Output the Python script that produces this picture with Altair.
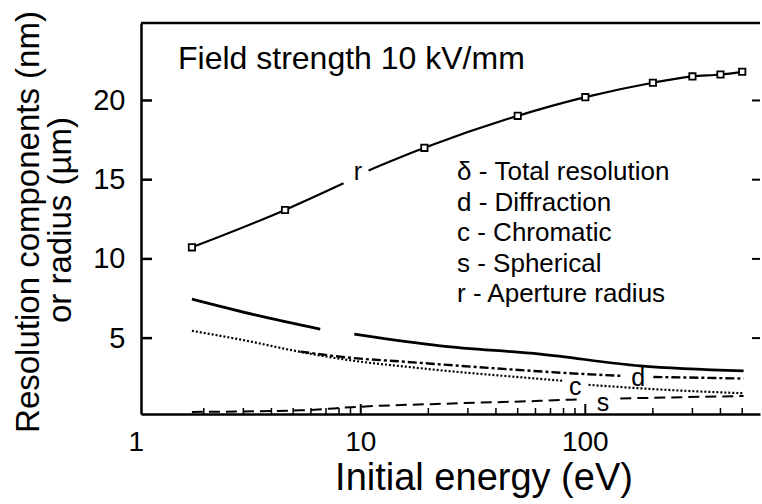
import altair as alt
import pandas as pd

FONT = "Liberation Sans"

# ---- data ----
r_mark_E = [1.77, 4.6, 19.2, 50, 100, 200, 300, 400, 500]
r_mark_V = [10.73, 13.09, 17.01, 19.03, 20.21, 21.12, 21.52, 21.64, 21.81]
r_line_E = [1.77, 4.6, 8.38, 10.83, 19.2, 50, 100, 200, 300, 400, 500]
r_line_V = [10.73, 13.09, 14.77, 15.58, 17.01, 19.03, 20.21, 21.12, 21.52, 21.64, 21.81]
r_line_seg = [1, 1, 1, 2, 2, 2, 2, 2, 2, 2, 2]

delta_E = [1.77, 3.42, 6.60, 9.36, 22.6, 63.0, 175.8, 507]
delta_V = [7.46, 6.45, 5.57, 5.25, 4.51, 3.99, 3.25, 2.93]
delta_seg = [1, 1, 1, 2, 2, 2, 2, 2]

c_E = [1.77, 3.11, 5.38, 9.29, 16.06, 27.7, 44.8, 80.1, 103.4, 247.4, 507]
c_V = [5.46, 4.83, 4.13, 3.57, 3.19, 2.85, 2.60, 2.30, 2.05, 1.71, 1.52]
c_seg = [1, 1, 1, 1, 1, 1, 1, 1, 2, 2, 2]

d_E = [5.38, 9.29, 16.06, 27.7, 44.8, 88.4, 143.2, 201, 507]
d_V = [4.15, 3.74, 3.50, 3.25, 3.04, 2.77, 2.62, 2.55, 2.45]
d_seg = [1, 1, 1, 1, 1, 1, 1, 2, 2]

s_E = [1.77, 5.38, 9.62, 27.7, 63.0, 95.0, 143.2, 507]
s_V = [0.34, 0.44, 0.66, 0.89, 1.04, 1.14, 1.19, 1.35]
s_seg = [1, 1, 1, 1, 1, 1, 2, 2]

lab_text = ["r", "c", "d", "s"]
lab_E = [9.70, 90.3, 172, 120]
lab_V = [15.51, 1.89, 2.48, 0.91]

x_labels = [1, 10, 100]
x_label_text = ["1", "10", "100"]
x_minor = [2, 3, 4, 5, 6, 7, 8, 9, 20, 30, 40, 50, 60, 70, 80, 90, 200, 300, 400, 500]
x_major = [10, 100]
y_ticks = [5, 10, 15, 20]

title_text = "Field strength 10 kV/mm"
legend_lines = ["δ - Total resolution", "d - Diffraction", "c - Chromatic",
                "s - Spherical", "r - Aperture radius"]
x_title = "Initial energy (eV)"
y_title = ["Resolution components (nm)", "or radius (µm)"]

W, H = 619, 391

xscale = alt.Scale(type="log", domain=[1.05, 600])
yscale = alt.Scale(domain=[0.21, 24.89], nice=False, zero=False)

xaxis = alt.Axis(values=x_labels, labels=False, ticks=False, tickSize=0, domain=True,
                 domainColor="black", domainWidth=2.5, grid=False, title=None)
yaxis = alt.Axis(values=y_ticks, ticks=False, tickSize=0, domain=True,
                 domainColor="black", domainWidth=2.5, labelFontSize=29, labelFont=FONT,
                 labelColor="black", labelPadding=16, grid=False, title=None)

X = alt.X("E:Q", scale=xscale, axis=xaxis, title=None)
Y = alt.Y("V:Q", scale=yscale, axis=yaxis, title=None)


def line_layer(E, V, seg, dash, width):
    df = pd.DataFrame({"E": E, "V": V, "seg": seg})
    kw = dict(color="black", strokeWidth=width, interpolate="monotone")
    if dash:
        kw["strokeDash"] = dash
    return alt.Chart(df).mark_line(**kw).encode(x=X, y=Y, detail="seg:N")


layers = []
layers.append(line_layer(r_line_E, r_line_V, r_line_seg, None, 2.2))
layers.append(line_layer(delta_E, delta_V, delta_seg, None, 2.7))
layers.append(line_layer(c_E, c_V, c_seg, [2, 2], 2.2))
layers.append(line_layer(d_E, d_V, d_seg, [9, 3, 3, 3], 2.4))
layers.append(line_layer(s_E, s_V, s_seg, [11, 6], 2))

marks = alt.Chart(pd.DataFrame({"E": r_mark_E, "V": r_mark_V})).mark_point(
    shape="square", filled=True, fill="white", stroke="black", strokeWidth=1.8,
    size=40, opacity=1).encode(x=X, y=Y)
layers.append(marks)

labs = alt.Chart(pd.DataFrame({"E": lab_E, "V": lab_V, "t": lab_text})).mark_text(
    fontSize=25, font=FONT, color="black", baseline="middle", align="center").encode(
    x=X, y=Y, text="t:N")
layers.append(labs)

# x tick labels
layers.append(alt.Chart(pd.DataFrame({"E": x_labels, "t": x_label_text})).mark_text(
    fontSize=28, font=FONT, color="black", baseline="top", align="center").encode(
    x=X, y=alt.value(H + 15), text="t:N"))

# inward tick marks
yt = pd.DataFrame({"V": y_ticks})
layers.append(alt.Chart(yt).mark_rule(color="black", strokeWidth=2.5).encode(
    y=Y, x=alt.value(0), x2=alt.value(11)))
layers.append(alt.Chart(yt).mark_rule(color="black", strokeWidth=2).encode(
    y=Y, x=alt.value(W - 8), x2=alt.value(W)))
layers.append(alt.Chart(pd.DataFrame({"E": x_minor})).mark_rule(
    color="black", strokeWidth=1.5).encode(
    x=X, y=alt.value(H - 6), y2=alt.value(H)))
layers.append(alt.Chart(pd.DataFrame({"E": x_major})).mark_rule(
    color="black", strokeWidth=2).encode(
    x=X, y=alt.value(H - 10), y2=alt.value(H)))
# top frame line
layers.append(alt.Chart(pd.DataFrame({"E": [10]})).mark_rule(color="black", strokeWidth=2.5).encode(
    x=alt.value(0), x2=alt.value(W), y=alt.value(0)))

# annotation texts
dummy = pd.DataFrame({"a": [0]})
layers.append(alt.Chart(dummy).mark_text(fontSize=32, font=FONT, color="black", align="left",
                                         baseline="alphabetic").encode(
    x=alt.value(37), y=alt.value(46), text=alt.value(title_text)))
for i, t in enumerate(legend_lines):
    layers.append(alt.Chart(dummy).mark_text(fontSize=26, font=FONT, color="black", align="left",
                                             baseline="alphabetic").encode(
        x=alt.value(316), y=alt.value(157 + i * 30.6), text=alt.value(t)))
layers.append(alt.Chart(dummy).mark_text(fontSize=38, font=FONT, color="black", align="center",
                                         baseline="alphabetic").encode(
    x=alt.value(343), y=alt.value(467), text=alt.value(x_title)))
layers.append(alt.Chart(dummy).mark_text(fontSize=33, font=FONT, color="black", align="center",
                                         baseline="middle", angle=270).encode(
    x=alt.value(-112), y=alt.value(199), text=alt.value(y_title[0])))
layers.append(alt.Chart(dummy).mark_text(fontSize=33, font=FONT, color="black", align="center",
                                         baseline="middle", angle=270).encode(
    x=alt.value(-80), y=alt.value(197), text=alt.value(y_title[1])))

chart = alt.layer(*layers).properties(
    width=W, height=H,
    autosize=alt.AutoSizeParams(type="none"),
    padding={"left": 141, "top": 23, "right": 2, "bottom": 90},
    background="white",
).configure_view(stroke=None)

chart.save("out.html", embed_options={"renderer": "svg", "actions": False})
